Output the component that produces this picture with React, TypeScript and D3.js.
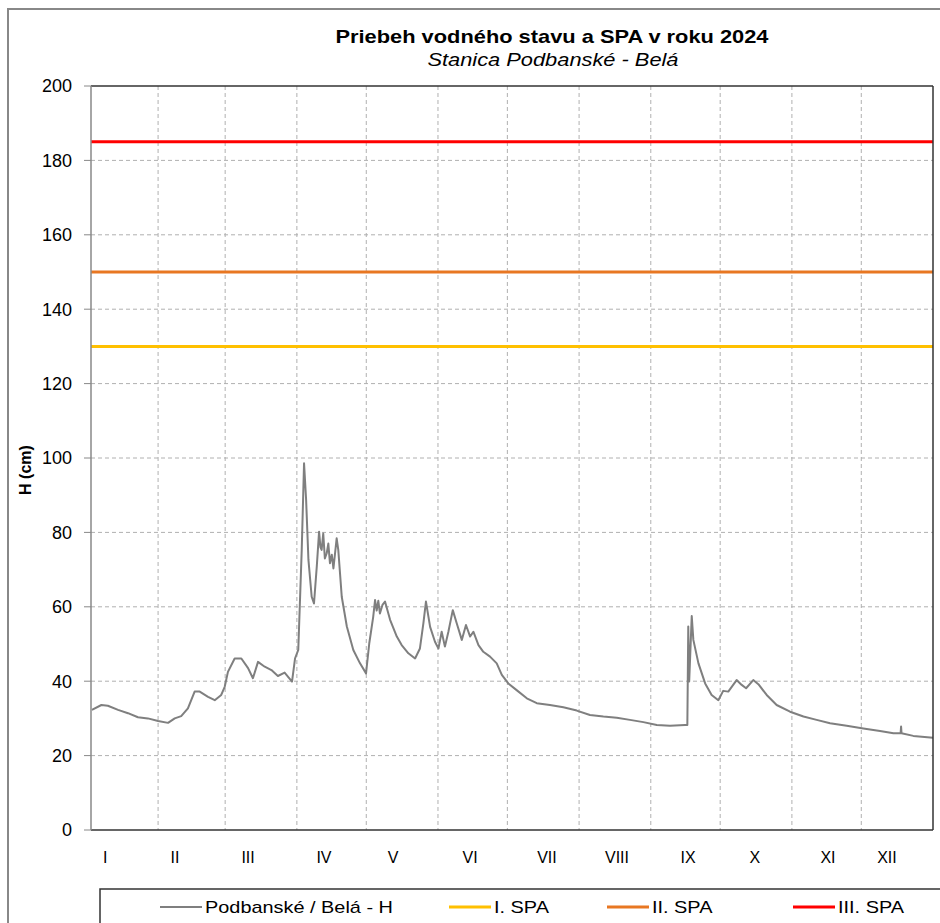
import React, { useEffect, useRef } from 'react';
import * as d3 from 'd3';

// day of year (2024) and water level H in cm
const levelDays = [
  2.4, 6.5, 9.3, 13.7, 18, 22.3, 26.6, 31, 35.3, 38.2, 41, 43.9, 46.8, 49, 52.6, 55.5, 58.3, 59.8,
  61.2, 64.1, 67, 69.9, 72, 74.2, 77.1, 80, 82.8, 85.7, 88.9, 90.2, 91.6, 93.1, 94.1, 95, 96,
  97.4, 98.4, 99.6, 100.6, 101.2, 101.7, 102.4, 103.1, 103.9, 104.6, 105.3, 106.1, 106.8, 108.2,
  108.9, 110.4, 112.6, 115.4, 118.3, 120.9, 122.3, 124, 124.8, 125.5, 126.2, 126.9, 128, 129.1,
  131.3, 134.2, 136.3, 139.2, 142.1, 144.2, 145.7, 146.8, 148.6, 150.7, 152.2, 153.6, 155, 156.5,
  158.4, 160.1, 162.3, 164.1, 165.9, 167.3, 169.5, 171.6, 174.5, 177.4, 179.6, 182.4, 186, 190.4,
  194.7, 200.4, 206.2, 212, 217.7, 223.5, 229.3, 235, 240.8, 246.6, 252.3, 258.8, 259.8, 260.2,
  260.6, 261.7, 262.4, 264.6, 267.5, 270.3, 273.2, 275.3, 277.5, 281.1, 283.3, 285.2, 288.3,
  290.5, 294.1, 298.4, 304.2, 310, 315.7, 321.5, 328.7, 335.9, 343.1, 348.9, 352, 352.2, 352.4,
  357.5, 366
];
const levelValues = [
  32.3, 33.6, 33.4, 32.3, 31.4, 30.3, 30, 29.3, 28.8, 30, 30.6, 32.7, 37.2, 37.2, 35.8, 34.9, 36.3, 38.5,
  42.5, 46.1, 46.1, 43.5, 40.8, 45.2, 43.9, 43, 41.4, 42.3, 39.9, 46.1, 48.4, 75.3, 98.6, 88.7, 72.6,
  62.7, 60.9, 70.8, 80.2, 76, 75.3, 79.7, 73, 74.4, 77, 71.7, 74, 70.3, 78.4,
  75.3, 62.7, 54.7, 48.4, 44.8, 42.1, 50.2, 57.3, 61.8, 59, 61.6, 58.2, 60.5, 61.4,
  56.5, 52, 49.7, 47.5, 46.1, 48.8, 55.6, 61.4, 54.6, 50.6, 48.8, 53.3, 49.3, 53.3,
  59.1, 55.6, 51.1, 55.1, 52, 53.3, 49.7, 47.9, 46.6, 44.8, 41.7, 39.4, 37.6, 35.4,
  34.1, 33.6, 33, 32.1, 30.9, 30.5, 30.2, 29.6, 29, 28.2, 28, 28.2, 28.2, 54.7,
  39.9, 57.5, 51.1, 44.8, 39.4, 36.3, 34.9, 37.4, 37.2, 40.3, 39, 38.1, 40.3,
  39.2, 36.3, 33.6, 31.8, 30.5, 29.6, 28.7, 28, 27.3, 26.6, 26, 26, 27.8, 26,
  25.3, 24.8
];

const monthStartDays = [31, 60, 91, 121, 152, 182, 213, 244, 274, 305, 335];
const monthLabels = ['I', 'II', 'III', 'IV', 'V', 'VI', 'VII', 'VIII', 'IX', 'X', 'XI', 'XII'];
const monthLabelDays = [8.1, 38.3, 69.9, 102.7, 132.6, 165.9, 199.1, 229.4, 260.1, 289, 320.6, 346.1];

const yTicks = [0, 20, 40, 60, 80, 100, 120, 140, 160, 180, 200];

const spaNames = ['I. SPA', 'II. SPA', 'III. SPA'];
const spaLevels = [130, 150, 185];
const spaColors = ['#ffc000', '#e87722', '#ff0000'];

const seriesName = 'Podbanské / Belá - H';

const App: React.FC = () => {
  const svgRef = useRef<SVGSVGElement>(null);
  const width = 940;
  const height = 923;

  useEffect(() => {
    if (!svgRef.current) return;
    const svg = d3.select(svgRef.current);
    svg.selectAll('*').remove();

    const font = 'Arial, "Liberation Sans", sans-serif';
    const plot = { left: 91, right: 933, top: 86, bottom: 830 };

    const x = d3.scaleLinear().domain([2, 366]).range([plot.left, plot.right]);
    const y = d3.scaleLinear().domain([0, 200]).range([plot.bottom, plot.top]);

    svg.append('rect')
      .attr('width', width).attr('height', height).attr('fill', '#fff');

    // outer chart frame
    svg.append('rect')
      .attr('x', 8).attr('y', 9)
      .attr('width', 960).attr('height', 960)
      .attr('fill', 'none')
      .attr('stroke', '#888')
      .attr('stroke-width', 2);

    // title (the original text is a bit wide, so stretch it)
    svg.append('text')
      .attr('x', 552).attr('y', 43)
      .attr('text-anchor', 'middle')
      .attr('font-family', font)
      .attr('font-size', 19)
      .attr('font-weight', 'bold')
      .attr('textLength', 433)
      .attr('lengthAdjust', 'spacingAndGlyphs')
      .attr('fill', '#000')
      .text('Priebeh vodného stavu a SPA v roku 2024');

    svg.append('text')
      .attr('x', 553).attr('y', 66)
      .attr('text-anchor', 'middle')
      .attr('font-family', font)
      .attr('font-size', 18)
      .attr('font-style', 'italic')
      .attr('textLength', 251)
      .attr('lengthAdjust', 'spacingAndGlyphs')
      .attr('fill', '#000')
      .text('Stanica Podbanské - Belá');

    const g = svg.append('g');

    // grid
    g.selectAll('.hgrid')
      .data(yTicks.filter(d => d > 0 && d < 200))
      .enter().append('line')
      .attr('x1', plot.left).attr('x2', plot.right)
      .attr('y1', d => y(d)).attr('y2', d => y(d))
      .attr('stroke', '#b0b0b0')
      .attr('stroke-width', 1)
      .attr('stroke-dasharray', '4,3');

    g.selectAll('.vgrid')
      .data(monthStartDays)
      .enter().append('line')
      .attr('x1', d => x(d)).attr('x2', d => x(d))
      .attr('y1', plot.top).attr('y2', plot.bottom)
      .attr('stroke', '#b0b0b0')
      .attr('stroke-width', 1)
      .attr('stroke-dasharray', '4,3');

    // SPA lines
    g.selectAll('.spa')
      .data(spaLevels)
      .enter().append('line')
      .attr('x1', plot.left).attr('x2', plot.right)
      .attr('y1', d => y(d)).attr('y2', d => y(d))
      .attr('stroke', (_, i) => spaColors[i])
      .attr('stroke-width', 3);

    // water level
    const pts = levelDays.map((d, i) => [d, levelValues[i]] as [number, number]);
    const line = d3.line<[number, number]>()
      .x(d => x(d[0]))
      .y(d => y(d[1]));

    g.append('path')
      .datum(pts)
      .attr('fill', 'none')
      .attr('stroke', '#7f7f7f')
      .attr('stroke-width', 2)
      .attr('stroke-linejoin', 'round')
      .attr('d', line);

    // frame of plot area
    g.append('line')
      .attr('x1', plot.left).attr('x2', plot.right)
      .attr('y1', plot.top).attr('y2', plot.top)
      .attr('stroke', '#333').attr('stroke-width', 1.5);
    g.append('line')
      .attr('x1', plot.right).attr('x2', plot.right)
      .attr('y1', plot.top).attr('y2', plot.bottom)
      .attr('stroke', '#333').attr('stroke-width', 1.5);
    g.append('line')
      .attr('x1', plot.left).attr('x2', plot.right)
      .attr('y1', plot.bottom).attr('y2', plot.bottom)
      .attr('stroke', '#333').attr('stroke-width', 1.5);
    g.append('line')
      .attr('x1', plot.left).attr('x2', plot.left)
      .attr('y1', plot.top).attr('y2', plot.bottom)
      .attr('stroke', '#888').attr('stroke-width', 1.5);

    // y axis ticks + labels
    g.selectAll('.ytick')
      .data(yTicks)
      .enter().append('line')
      .attr('x1', plot.left - 7).attr('x2', plot.left)
      .attr('y1', d => y(d)).attr('y2', d => y(d))
      .attr('stroke', '#888');

    g.selectAll('.ylab')
      .data(yTicks)
      .enter().append('text')
      .attr('x', 72)
      .attr('y', d => y(d))
      .attr('dy', '0.35em')
      .attr('text-anchor', 'end')
      .attr('font-family', font)
      .attr('font-size', 18)
      .attr('fill', '#000')
      .text(d => d);

    svg.append('text')
      .attr('transform', 'translate(31,470) rotate(-90)')
      .attr('text-anchor', 'middle')
      .attr('font-family', font)
      .attr('font-size', 16)
      .attr('font-weight', 'bold')
      .text('H (cm)');

    // month labels
    g.selectAll('.mlab')
      .data(monthLabels)
      .enter().append('text')
      .attr('x', (_, i) => x(monthLabelDays[i]))
      .attr('y', 863)
      .attr('text-anchor', 'middle')
      .attr('font-family', font)
      .attr('font-size', 16)
      .attr('fill', '#000')
      .text(d => d);

    // legend
    const lg = svg.append('g');
    lg.append('rect')
      .attr('x', 100).attr('y', 889)
      .attr('width', 900).attr('height', 80)
      .attr('fill', 'none')
      .attr('stroke', '#333')
      .attr('stroke-width', 1.5);

    const legendItems = [
      { name: seriesName, color: '#7f7f7f', w: 2, x0: 160 },
      { name: spaNames[0], color: spaColors[0], w: 3, x0: 449 },
      { name: spaNames[1], color: spaColors[1], w: 3, x0: 607 },
      { name: spaNames[2], color: spaColors[2], w: 3, x0: 793 }
    ];
    legendItems.forEach(it => {
      lg.append('line')
        .attr('x1', it.x0).attr('x2', it.x0 + 42)
        .attr('y1', 907).attr('y2', 907)
        .attr('stroke', it.color)
        .attr('stroke-width', it.w);
      lg.append('text')
        .attr('transform', `translate(${it.x0 + 45},907) scale(1.17,1)`)
        .attr('dy', '0.35em')
        .attr('font-family', font)
        .attr('font-size', 17)
        .attr('fill', '#000')
        .text(it.name);
    });
  }, []);

  return (
    <svg
      ref={svgRef}
      width={width}
      height={height}
      style={{ position: 'absolute', left: 0, top: 0 }}
    />
  );
};

export default App;
